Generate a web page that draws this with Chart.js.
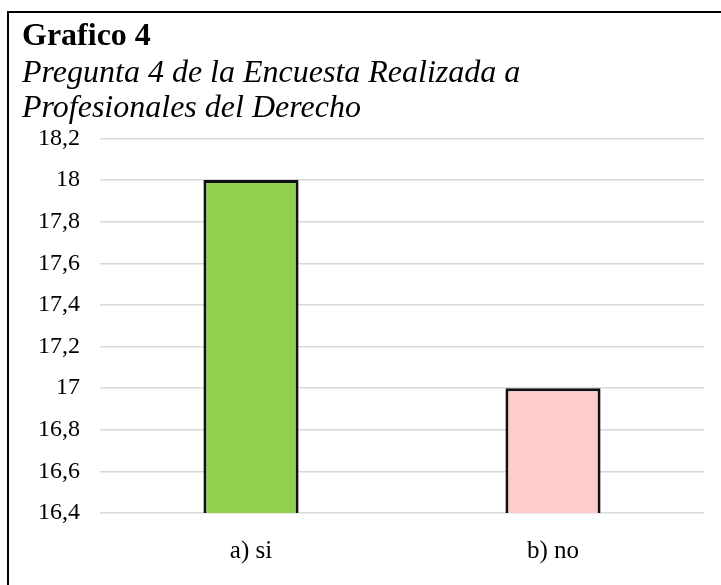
<!DOCTYPE html>
<html>
<head>
<meta charset="utf-8">
<script src="https://cdn.jsdelivr.net/npm/chart.js@4/dist/chart.umd.min.js"></script>
<style>
  html, body { margin: 0; padding: 0; background: #fff; }
  #wrap { width: 721px; height: 585px; position: relative; }
</style>
</head>
<body>
<div id="wrap"><canvas id="grafico"></canvas></div>
<script>
// datos del grafico
const categorias = ['a) si', 'b) no'];
const valores = [18, 17];
const coloresBarras = ['#92D050', '#FFCCCC'];
const ejeMin = 16.4;
const ejeMax = 18.2;
const ejePaso = 0.2;

const fuente = "'Liberation Serif', 'Times New Roman', serif";

// marco: solo lineas izquierda y superior
const marco = {
    id: 'marco',
    afterDraw: chart => {
        const ctx = chart.ctx;
        ctx.save();
        ctx.strokeStyle = '#000';
        ctx.lineWidth = 2;
        ctx.beginPath();
        ctx.moveTo(8, 585);
        ctx.lineTo(8, 12);
        ctx.lineTo(721, 12);
        ctx.stroke();
        ctx.restore();
    }
};

// formato con coma decimal
const formatoTick = v => String(Number(v.toFixed(1))).replace('.', ',');

new Chart(document.getElementById('grafico'), {
    type: 'bar',
    data: {
        labels: categorias,
        datasets: [{
            data: valores,
            backgroundColor: coloresBarras,
            borderColor: '#111',
            borderWidth: 3,
            categoryPercentage: 1,
            barPercentage: 0.315
        }]
    },
    options: {
        responsive: true,
        maintainAspectRatio: false,
        animation: false,
        layout: { padding: { left: 22, top: 14, right: 17, bottom: 0 } },
        plugins: {
            legend: { display: false },
            tooltip: { enabled: false },
            title: {
                display: true,
                text: 'Grafico 4',
                align: 'start',
                color: '#000',
                font: { family: fuente, size: 32, weight: 'bold', lineHeight: 1.2 },
                padding: { top: 4, bottom: 0 }
            },
            subtitle: {
                display: true,
                text: ['Pregunta 4 de la Encuesta Realizada a', 'Profesionales del Derecho'],
                align: 'start',
                color: '#000',
                font: { family: fuente, size: 32, style: 'italic', lineHeight: '35px' },
                padding: { top: 0, bottom: 12 }
            }
        },
        scales: {
            x: {
                grid: { display: false, drawTicks: false },
                border: { display: false },
                ticks: { color: '#000', font: { family: fuente, size: 25 }, padding: 23 },
                afterFit: s => { s.height = 72; }
            },
            y: {
                min: ejeMin,
                max: ejeMax,
                ticks: {
                    stepSize: ejePaso,
                    color: '#000',
                    font: { family: fuente, size: 24 },
                    padding: 20,
                    callback: formatoTick
                },
                grid: { color: '#d9d9d9', lineWidth: 1.5, drawTicks: false },
                border: { display: false },
                afterFit: s => { s.width = 78; }
            }
        }
    },
    plugins: [marco]
});
</script>
</body>
</html>
